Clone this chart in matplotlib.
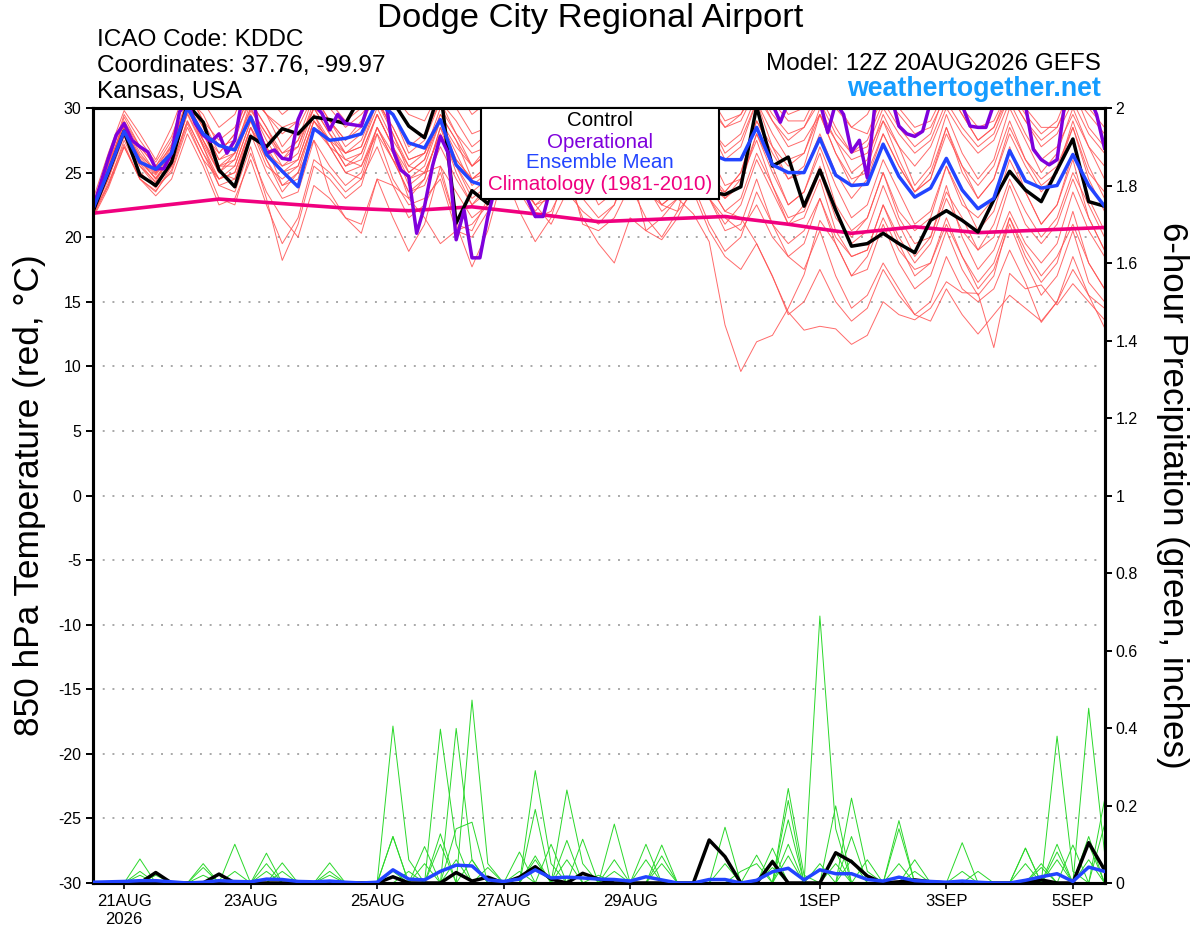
import numpy as np
import matplotlib
matplotlib.use("Agg")
import matplotlib.pyplot as plt
from matplotlib.patches import Rectangle

plt.rcParams['font.family'] = ['Liberation Sans', 'DejaVu Sans']

# ---------------- data (6-hourly steps from 20AUG2026 12Z) ----------------
tick_pos = [2, 10, 18, 26, 34, 46, 54, 62]
tick_labels = ['21AUG\n2026', '23AUG', '25AUG', '27AUG', '29AUG', '1SEP', '3SEP', '5SEP']
temp_ticks = [-30, -25, -20, -15, -10, -5, 0, 5, 10, 15, 20, 25, 30]
precip_ticks = [0, 0.2, 0.4, 0.6, 0.8, 1.0, 1.2, 1.4, 1.6, 1.8, 2.0]
precip_tick_labels = ['0', '0.2', '0.4', '0.6', '0.8', '1', '1.2', '1.4', '1.6', '1.8', '2']

control_temp = [21.9, 25.0, 28.2, 24.8, 24.0, 25.8, 30.3, 28.9, 25.2, 23.9, 27.8, 27.0, 28.4, 28.0, 29.3, 29.1,
                28.8, 31.0, 31.5, 30.5, 28.6, 27.7, 31.5, 21.1, 23.6, 22.6, 24.5, 25.5, 26.0, 25.0, 26.5, 27.0,
                26.0, 25.5, 26.5, 27.5, 26.0, 25.0, 24.0, 23.5, 23.3, 23.9, 30.1, 25.5, 26.2, 22.4, 25.2, 22.1,
                19.3, 19.5, 20.3, 19.5, 18.8, 21.3, 22.05, 21.3, 20.4, 22.9, 25.1, 23.65, 22.75, 25.2, 27.6, 22.75,
                22.4]

mean_temp = [22.1, 25.1, 28.2, 25.8, 25.25, 26.5, 30.0, 28.0, 27.1, 26.75, 29.3, 26.4, 25.1, 23.9, 28.4, 27.5,
             27.65, 28.0, 30.5, 29.5, 27.3, 26.9, 29.1, 25.6, 24.3, 23.9, 25.5, 26.5, 27.5, 28.0, 27.0, 27.5,
             28.5, 28.0, 27.0, 28.5, 27.5, 27.0, 26.5, 26.5, 26.0, 26.0, 28.5, 25.6, 25.0, 25.0, 27.65, 24.8,
             24.0, 24.1, 27.2, 24.7, 23.1, 23.8, 26.1, 23.65, 22.2, 23.0, 26.7, 24.35, 23.8, 24.0, 26.4, 24.0,
             22.4]

# operational run is 3-hourly
oper_temp = [22.1, 24.1, 26.1, 27.9, 28.8, 27.5, 27.0, 26.6, 25.3, 25.3, 26.5, 29.7, 30.5, 28.8, 27.9, 27.4,
             28.0, 26.5, 27.5, 31.0, 32.0, 28.3, 26.5, 26.75, 26.1, 26.0, 29.1, 30.5, 30.3, 29.6, 28.3, 29.5,
             28.8, 28.7, 28.6, 30.5, 31.5, 31.0, 26.75, 25.2, 24.7, 20.3, 22.4, 25.5, 27.8, 26.5, 19.8, 22.1,
             18.4, 18.4, 21.6, 24.0, 25.0, 26.0, 25.0, 23.0, 21.6, 21.6, 24.0, 26.0, 27.0, 28.0, 27.5, 28.5,
             29.0, 28.0, 29.5, 30.5, 29.0, 28.0, 29.5, 30.5, 29.5, 28.5, 30.0, 31.0, 30.5, 29.5, 30.5, 31.5,
             31.0, 30.8, 31.5, 32.0, 31.0, 30.5, 30.3, 28.9, 30.5, 31.5, 32.0, 31.0, 30.5, 28.1, 30.4, 29.5,
             26.6, 27.5, 24.6, 30.5, 31.5, 31.0, 28.6, 28.0, 27.8, 28.2, 30.5, 31.5, 32.0, 31.0, 30.2, 28.6,
             28.5, 28.5, 30.3, 31.5, 32.0, 31.0, 30.2, 26.8, 26.0, 25.6, 26.0, 30.5, 31.5, 32.0, 31.0, 29.5,
             26.9]

clim_step = [0, 4, 8, 12, 16, 20, 24, 28, 32, 36, 40, 44, 48, 52, 56, 60, 64]
clim_temp = [21.85, 22.4, 22.95, 22.6, 22.25, 22.05, 22.35, 21.8, 21.2, 21.4, 21.6, 21.0, 20.3, 20.8,
             20.35, 20.55, 20.75]

m01 = [22.3, 25.5, 28.8, 26.5, 25.0, 27.0, 30.8, 29.5, 27.0, 27.5, 31.0, 29.5, 28.5, 29.0, 31.5, 30.5,
       29.0, 30.0, 32.0, 31.0, 29.5, 29.0, 31.5, 30.0, 28.0, 28.5, 31.0, 30.0, 28.5, 29.0, 31.5, 30.5,
       29.0, 29.5, 32.0, 31.0, 29.5, 30.0, 32.5, 31.0, 29.0, 29.5, 32.0, 30.5, 29.0, 29.0, 31.5, 30.0,
       28.5, 28.0, 31.0, 29.5, 28.0, 28.5, 31.0, 30.0, 28.5, 29.0, 31.5, 30.0, 28.5, 28.5, 31.0, 29.5, 28.0]
m02 = [21.8, 25.0, 29.3, 27.0, 25.5, 27.5, 31.5, 29.0, 26.5, 28.0, 30.5, 28.5, 26.0, 27.5, 30.0, 29.0,
       27.5, 29.0, 31.0, 29.5, 27.0, 28.0, 30.5, 28.0, 25.5, 27.0, 30.0, 28.5, 27.0, 28.5, 31.0, 29.0,
       27.5, 28.0, 30.5, 29.5, 28.0, 29.0, 31.5, 30.0, 28.5, 29.5, 31.5, 29.0, 27.0, 27.5, 29.5, 27.5,
       26.0, 26.5, 29.0, 27.0, 25.5, 27.0, 30.0, 28.0, 26.5, 27.5, 30.5, 28.0, 26.0, 27.0, 29.5, 27.0, 25.5]
m03 = [22.0, 24.5, 27.8, 25.0, 23.8, 26.0, 29.5, 27.0, 24.0, 23.5, 27.0, 23.0, 18.2, 21.0, 25.5, 24.5,
       23.0, 24.0, 28.0, 26.0, 23.5, 24.5, 28.5, 25.0, 22.5, 24.0, 27.5, 25.5, 23.5, 24.5, 28.0, 26.0,
       24.0, 25.5, 28.5, 26.5, 24.5, 25.0, 28.0, 25.5, 23.0, 24.5, 28.0, 25.0, 22.5, 23.5, 27.0, 24.0,
       21.5, 22.5, 26.0, 23.5, 21.0, 22.0, 25.5, 23.0, 20.5, 22.0, 26.0, 23.5, 21.0, 22.5, 26.5, 23.0, 20.5]
m04 = [22.5, 25.8, 28.5, 26.0, 24.8, 26.5, 30.0, 28.0, 25.5, 26.5, 29.5, 27.0, 24.0, 24.5, 28.5, 27.0,
       25.0, 24.5, 27.0, 24.0, 21.5, 22.5, 25.0, 21.0, 17.7, 20.5, 25.0, 24.0, 22.0, 23.5, 27.0, 25.0,
       23.0, 24.0, 27.5, 25.0, 23.5, 24.5, 27.0, 24.0, 22.0, 23.0, 26.5, 24.0, 21.0, 22.5, 25.5, 22.0,
       19.5, 20.5, 24.0, 21.0, 18.5, 20.0, 23.5, 21.5, 19.0, 21.0, 24.5, 22.0, 20.0, 21.5, 25.0, 22.5, 20.0]
m05 = [21.5, 24.0, 27.0, 24.5, 23.5, 25.5, 29.0, 26.5, 24.5, 25.0, 28.5, 26.0, 23.5, 25.0, 29.0, 27.5,
       25.5, 26.5, 29.5, 27.0, 24.0, 25.0, 28.0, 25.5, 23.0, 24.0, 27.5, 25.5, 23.0, 24.0, 27.0, 25.0,
       22.5, 23.5, 26.5, 24.0, 22.0, 23.0, 21.8, 19.65, 13.2, 9.6, 11.9, 12.4, 14.5, 17.1, 21.3, 19.5,
       17.0, 18.5, 21.5, 19.0, 17.5, 18.0, 21.0, 18.5, 16.5, 18.0, 21.5, 19.0, 17.0, 18.5, 21.0, 18.0, 16.0]
m06 = [22.2, 25.2, 28.0, 25.5, 24.0, 25.5, 29.0, 26.5, 24.0, 24.5, 28.0, 25.0, 23.0, 23.5, 27.5, 25.5,
       24.0, 25.0, 28.5, 26.0, 24.5, 25.5, 29.0, 26.5, 24.0, 25.0, 28.0, 25.5, 24.5, 25.5, 28.5, 26.0,
       25.0, 25.5, 28.5, 25.5, 25.0, 25.5, 27.5, 24.0, 22.0, 21.5, 19.5, 16.95, 14.2, 12.8, 13.1, 12.9,
       11.7, 12.4, 15.0, 14.0, 13.6, 14.5, 16.55, 15.7, 15.65, 11.45, 17.2, 16.0, 16.3, 14.75, 16.4, 15.0, 13.6]
m07 = [21.4, 23.8, 27.0, 24.5, 23.6, 25.2, 28.8, 26.0, 24.5, 25.0, 28.5, 26.5, 25.5, 26.5, 30.0, 28.0,
       26.0, 26.5, 29.5, 27.0, 25.0, 26.0, 29.0, 27.0, 25.5, 26.5, 29.5, 27.5, 25.5, 26.0, 28.5, 25.5,
       24.0, 24.5, 27.5, 25.0, 23.5, 24.0, 26.5, 23.0, 21.5, 20.5, 22.5, 20.0, 18.5, 17.5, 20.5, 17.0,
       14.5, 15.5, 18.0, 16.0, 14.0, 13.5, 16.0, 14.0, 12.5, 14.0, 15.5, 14.5, 13.5, 15.0, 17.5, 15.5, 13.0]
m08 = [22.2, 24.8, 28.0, 25.5, 24.3, 26.5, 30.5, 28.5, 26.0, 27.0, 30.0, 27.5, 25.5, 26.0, 29.5, 27.0,
       25.0, 25.5, 28.5, 26.0, 23.5, 24.0, 27.0, 24.5, 22.5, 23.5, 26.0, 23.5, 21.5, 22.0, 24.5, 21.5,
       19.5, 18.0, 21.5, 20.5, 19.8, 21.5, 24.0, 21.0, 18.9, 20.0, 23.5, 21.0, 19.5, 20.5, 23.0, 20.0,
       18.5, 19.0, 22.5, 20.0, 18.0, 19.5, 23.0, 20.5, 19.0, 20.0, 24.0, 21.0, 19.5, 21.0, 24.5, 21.5, 19.0]
m09 = [21.9, 24.0, 27.5, 25.0, 23.9, 25.0, 28.5, 26.0, 23.0, 22.5, 26.5, 23.5, 21.5, 20.0, 24.0, 23.0,
       21.5, 21.0, 24.5, 21.5, 18.9, 21.0, 25.5, 23.5, 21.5, 22.5, 26.5, 24.5, 22.5, 23.5, 27.0, 25.0,
       23.5, 24.0, 28.0, 25.5, 23.0, 24.0, 27.5, 25.0, 23.5, 25.0, 29.0, 26.5, 24.5, 25.5, 29.5, 26.5,
       24.0, 25.5, 29.0, 26.0, 23.5, 25.0, 28.5, 25.5, 23.0, 24.5, 28.5, 26.0, 24.0, 25.0, 29.0, 25.5, 23.0]
m10 = [22.8, 26.5, 29.8, 28.0, 26.0, 28.5, 31.8, 30.5, 28.5, 29.5, 32.5, 31.0, 29.5, 30.5, 33.0, 31.5,
       30.0, 31.0, 33.5, 32.0, 30.5, 31.0, 33.0, 31.5, 29.5, 30.5, 32.5, 31.0, 29.5, 30.5, 33.0, 31.5,
       30.0, 31.0, 33.0, 31.5, 30.0, 31.0, 33.5, 32.0, 30.5, 31.0, 33.5, 31.5, 29.5, 30.0, 32.5, 30.5,
       28.5, 29.5, 32.0, 30.0, 28.5, 29.0, 31.5, 29.5, 27.5, 28.5, 31.5, 29.5, 28.0, 29.0, 32.0, 30.0, 28.5]
m11 = [21.7, 24.5, 28.2, 26.0, 24.5, 26.5, 30.2, 27.5, 25.0, 24.5, 28.5, 25.5, 24.5, 25.5, 29.0, 27.0,
       26.0, 25.5, 28.0, 24.5, 22.5, 23.0, 24.5, 20.5, 21.0, 22.5, 25.0, 22.0, 19.65, 21.5, 25.5, 23.0,
       21.5, 22.5, 26.5, 23.5, 22.5, 23.5, 27.0, 24.0, 23.0, 24.0, 28.0, 25.5, 22.5, 23.5, 26.5, 22.5,
       20.5, 21.5, 25.0, 21.5, 19.5, 20.0, 24.0, 20.0, 17.5, 19.0, 22.0, 19.5, 18.0, 19.5, 23.5, 20.5, 18.5]
m12 = [22.4, 25.3, 29.0, 27.0, 25.5, 27.0, 30.5, 28.0, 26.5, 28.0, 31.5, 29.5, 27.0, 28.5, 31.0, 29.0,
       27.5, 28.5, 31.5, 29.5, 26.5, 27.5, 30.5, 29.0, 27.0, 28.0, 31.0, 29.5, 27.5, 28.5, 31.5, 29.0,
       27.0, 27.5, 30.0, 28.0, 26.5, 27.5, 30.5, 28.5, 27.0, 28.0, 31.0, 29.0, 27.5, 28.5, 31.0, 28.5,
       26.5, 27.0, 30.0, 28.0, 26.5, 27.5, 30.5, 28.5, 27.0, 28.0, 31.0, 29.0, 27.5, 28.5, 31.5, 28.5, 27.0]
m13 = [21.6, 24.2, 27.2, 24.5, 23.2, 24.5, 28.0, 25.5, 22.5, 23.0, 26.0, 22.5, 19.5, 21.5, 26.0, 25.0,
       23.5, 24.5, 28.5, 26.5, 23.0, 21.5, 19.5, 20.5, 20.0, 22.0, 26.0, 24.0, 22.5, 23.0, 25.5, 21.0,
       20.5, 21.5, 24.0, 21.5, 20.0, 22.0, 26.0, 23.0, 21.0, 22.5, 26.0, 23.5, 21.0, 21.5, 24.5, 20.5,
       18.5, 19.0, 22.5, 19.5, 17.0, 18.0, 21.5, 18.5, 16.0, 17.5, 21.0, 18.0, 15.5, 17.0, 20.5, 16.5, 15.0]
m14 = [22.1, 25.6, 29.5, 27.5, 25.8, 27.8, 31.2, 29.0, 27.5, 28.5, 31.0, 29.5, 28.0, 29.0, 31.5, 30.0,
       28.5, 29.5, 31.0, 28.0, 25.5, 25.0, 25.5, 21.0, 20.5, 23.0, 27.5, 26.5, 25.5, 27.0, 30.5, 29.0,
       28.0, 29.0, 32.0, 30.5, 29.0, 30.0, 32.5, 30.5, 28.5, 29.0, 31.5, 29.5, 28.0, 28.5, 30.5, 28.0,
       26.5, 27.5, 30.5, 28.5, 27.0, 28.0, 31.5, 29.5, 27.5, 28.5, 31.0, 29.0, 27.0, 28.0, 30.5, 28.0, 26.5]
m15 = [22.0, 25.0, 28.5, 26.0, 24.5, 26.0, 29.8, 27.5, 25.5, 26.0, 29.5, 27.0, 25.0, 25.5, 29.0, 27.5,
       26.5, 27.5, 30.5, 28.0, 25.0, 26.0, 29.5, 27.5, 25.5, 26.5, 29.5, 27.0, 25.5, 26.0, 29.0, 26.0,
       23.5, 24.0, 27.0, 24.5, 22.5, 23.5, 26.5, 23.0, 20.5, 21.0, 24.5, 21.0, 18.5, 19.5, 23.0, 19.5,
       17.0, 17.5, 21.0, 18.0, 16.0, 17.0, 20.5, 17.5, 15.5, 17.0, 21.5, 18.5, 16.5, 18.0, 22.0, 18.0, 16.0]
m16 = [22.6, 25.2, 28.3, 25.8, 24.6, 26.2, 30.0, 27.5, 25.0, 26.5, 30.5, 28.5, 26.5, 27.0, 30.5, 28.5,
       26.5, 27.0, 30.0, 27.5, 25.5, 26.5, 29.5, 27.5, 24.5, 25.0, 27.5, 24.5, 22.5, 21.0, 23.5, 22.0,
       21.0, 22.5, 25.5, 20.5, 21.5, 23.0, 26.5, 24.0, 23.5, 25.0, 29.0, 27.0, 25.5, 26.5, 30.0, 27.5,
       25.0, 26.0, 29.5, 27.0, 24.0, 25.5, 29.5, 26.5, 24.5, 26.0, 30.0, 27.5, 25.0, 26.5, 30.0, 27.0, 24.5]
m17 = [21.9, 24.7, 28.6, 26.3, 25.2, 27.2, 30.3, 27.0, 24.5, 25.5, 29.0, 26.0, 24.0, 25.0, 27.5, 23.5,
       21.5, 20.3, 24.5, 24.0, 23.0, 24.5, 28.5, 26.0, 24.5, 25.5, 29.0, 27.0, 25.5, 26.5, 30.0, 27.5,
       26.0, 27.0, 30.5, 28.0, 26.5, 27.5, 31.0, 28.5, 26.0, 27.0, 30.5, 27.0, 24.5, 25.0, 28.0, 25.0,
       23.0, 24.5, 28.0, 25.5, 23.5, 24.5, 28.5, 25.0, 23.0, 24.5, 28.0, 25.5, 23.5, 25.0, 28.5, 24.5, 22.0]
m18 = [22.3, 25.4, 28.9, 26.8, 25.0, 26.8, 30.6, 28.5, 26.0, 26.5, 30.0, 28.0, 26.0, 27.0, 30.0, 28.0,
       26.5, 27.0, 30.5, 28.5, 26.0, 26.5, 30.0, 28.0, 26.5, 27.0, 30.5, 28.5, 26.5, 27.5, 30.0, 27.0,
       24.5, 25.0, 28.0, 24.5, 22.5, 22.0, 23.5, 20.5, 18.5, 17.5, 19.5, 17.0, 14.0, 15.0, 17.5, 15.0,
       13.5, 14.5, 17.5, 15.5, 14.0, 15.0, 18.5, 16.0, 15.0, 16.0, 19.0, 16.5, 13.4, 15.0, 18.5, 15.5, 14.5]
m19 = [21.8, 24.9, 28.4, 26.2, 24.9, 26.6, 30.4, 28.0, 25.5, 25.5, 29.0, 26.5, 25.0, 26.0, 29.5, 27.5,
       25.5, 26.0, 29.5, 27.0, 24.5, 25.0, 28.0, 25.5, 23.5, 24.5, 28.0, 26.0, 24.5, 25.5, 29.0, 26.5,
       25.0, 25.5, 29.0, 26.5, 25.0, 26.0, 29.5, 26.5, 24.0, 24.5, 27.5, 24.0, 21.5, 22.0, 25.0, 21.5,
       20.0, 21.5, 25.0, 22.0, 20.5, 21.5, 25.5, 22.5, 21.5, 23.0, 27.0, 23.5, 21.0, 22.5, 26.0, 21.5, 19.0]
m20 = [22.0, 25.1, 28.1, 25.7, 24.2, 25.8, 29.6, 27.2, 25.0, 26.0, 29.8, 28.0, 26.5, 27.5, 31.0, 29.0,
       27.0, 28.0, 30.5, 28.5, 26.0, 26.5, 29.0, 26.0, 24.5, 25.5, 29.5, 27.5, 26.0, 27.0, 30.0, 28.0,
       26.5, 27.5, 31.0, 28.5, 27.0, 28.0, 31.5, 29.0, 26.5, 27.5, 30.5, 28.0, 26.0, 26.5, 29.5, 26.5,
       24.5, 25.0, 28.0, 25.5, 23.5, 24.5, 28.0, 25.5, 24.0, 25.5, 29.0, 26.0, 24.5, 25.5, 28.5, 25.0, 23.5]
member_temps = [m01, m02, m03, m04, m05, m06, m07, m08, m09, m10,
                m11, m12, m13, m14, m15, m16, m17, m18, m19, m20]

control_precip = [0, 0, 0, 0, .027, 0, 0, 0, .023, 0, 0, 0, 0, 0, 0, 0,
                  0, 0, 0, .016, 0, 0, 0, .027, .005, .015, 0, .015, .042, .01, 0, .025,
                  .01, 0, 0, 0, 0, 0, 0, .111, .068, 0, 0, .055, 0, 0, 0, .078,
                  .055, .018, 0, .003, .008, .003, 0, 0, 0, 0, 0, 0, .008, 0, 0, .104,
                  .034]
mean_precip = [.002, .003, .004, .006, .006, .003, 0, .002, .006, .004, .003, .01, .009, .004, .003, .005,
               .002, 0, .002, .034, .01, .008, .03, .046, .044, .008, .004, .01, .034, .013, .015, .013,
               .01, .009, .005, .016, .008, 0, 0, .009, .009, 0, .007, .029, .038, .008, .034, .024,
               .024, .009, .005, .015, .006, .004, .002, .005, .002, 0, 0, .007, .016, .024, .004, .041,
               .03]

p01 = [0, 0, 0, 0, 0, 0, 0, 0, 0, 0, 0, 0, 0, 0, 0, 0,
       0, 0, 0, .405, .06, 0, 0, 0, 0, 0, 0, 0, .07, 0, 0, 0,
       0, 0, 0, 0, 0, 0, 0, 0, 0, 0, 0, 0, .10, 0, 0, 0,
       0, 0, 0, 0, 0, 0, 0, 0, 0, 0, 0, 0, 0, 0, 0, 0, 0]
p02 = [0, 0, 0, 0, 0, 0, 0, 0, 0, 0, 0, 0, 0, 0, 0, 0,
       0, 0, 0, 0, 0, 0, .397, .10, 0, 0, 0, 0, 0, 0, 0, 0,
       0, 0, 0, 0, 0, 0, 0, 0, 0, 0, 0, 0, 0, 0, 0, .08,
       0, 0, 0, 0, 0, 0, 0, 0, 0, 0, 0, 0, 0, 0, 0, .451, .08]
p03 = [0, 0, 0, 0, 0, 0, 0, 0, 0, 0, 0, 0, 0, 0, 0, 0,
       0, 0, 0, 0, 0, 0, 0, .399, .06, 0, 0, 0, 0, 0, 0, 0,
       0, 0, 0, 0, 0, 0, 0, 0, 0, 0, 0, 0, 0, 0, .05, 0,
       0, 0, 0, 0, 0, 0, 0, 0, 0, 0, 0, 0, 0, .10, 0, 0, 0]
p04 = [0, 0, 0, 0, 0, 0, 0, 0, 0, 0, 0, 0, 0, 0, 0, 0,
       0, 0, 0, 0, 0, 0, 0, 0, .472, .05, 0, 0, 0, 0, 0, 0,
       0, .06, 0, 0, 0, 0, 0, 0, 0, 0, 0, 0, 0, 0, 0, 0,
       .12, 0, 0, 0, 0, 0, 0, 0, 0, 0, 0, 0, 0, 0, 0, 0, 0]
p05 = [0, 0, 0, 0, 0, 0, 0, 0, 0, 0, 0, 0, 0, 0, 0, 0,
       0, 0, 0, 0, 0, 0, 0, 0, 0, 0, 0, 0, 0, 0, 0, 0,
       0, 0, 0, 0, 0, 0, 0, 0, 0, 0, 0, 0, 0, 0, .689, .14,
       0, 0, 0, 0, 0, 0, 0, 0, 0, 0, 0, .05, 0, 0, 0, 0, 0]
p06 = [0, 0, 0, 0, 0, 0, 0, 0, 0, 0, 0, 0, 0, 0, 0, 0,
       0, 0, 0, 0, 0, 0, 0, 0, 0, 0, 0, 0, .29, .05, 0, 0,
       0, 0, 0, 0, 0, 0, 0, 0, 0, 0, 0, 0, .244, .02, 0, 0,
       0, 0, 0, 0, 0, 0, 0, 0, 0, 0, 0, 0, 0, .379, .03, 0, 0]
p07 = [0, 0, 0, 0, 0, 0, 0, 0, 0, 0, 0, 0, 0, 0, 0, 0,
       0, 0, 0, 0, 0, 0, 0, 0, 0, 0, 0, 0, 0, 0, .24, .05,
       0, 0, 0, 0, 0, 0, 0, 0, 0, 0, 0, 0, 0, 0, 0, 0,
       .219, .03, 0, 0, 0, 0, 0, 0, 0, 0, 0, 0, 0, 0, 0, 0, 0]
p08 = [0, 0, 0, 0, 0, 0, 0, 0, 0, 0, 0, 0, 0, 0, 0, 0,
       0, 0, 0, .12, 0, 0, .127, 0, 0, 0, 0, 0, 0, 0, 0, 0,
       0, 0, 0, 0, 0, 0, 0, 0, 0, 0, 0, 0, .213, 0, 0, 0,
       0, 0, 0, 0, 0, 0, 0, 0, 0, 0, 0, 0, 0, 0, 0, 0, .214]
p09 = [0, 0, 0, 0, 0, 0, 0, 0, 0, 0, 0, 0, 0, 0, 0, 0,
       0, 0, 0, 0, 0, 0, 0, .14, .157, 0, 0, 0, 0, 0, 0, 0,
       0, 0, 0, 0, 0, 0, 0, 0, 0, 0, 0, 0, 0, 0, 0, .199,
       0, 0, 0, .14, 0, 0, 0, 0, 0, 0, 0, 0, 0, 0, 0, 0, 0]
p10 = [0, 0, 0, .062, 0, 0, 0, 0, 0, .10, 0, 0, 0, 0, 0, 0,
       0, 0, 0, .12, 0, 0, 0, 0, 0, 0, 0, 0, 0, 0, 0, 0,
       0, .152, 0, 0, 0, 0, 0, 0, 0, 0, 0, 0, 0, 0, 0, 0,
       0, 0, 0, .161, 0, 0, 0, 0, 0, 0, 0, 0, 0, 0, 0, 0, 0]
p11 = [0, 0, 0, 0, 0, 0, 0, 0, 0, 0, 0, .077, 0, 0, 0, 0,
       0, 0, 0, 0, 0, 0, 0, 0, 0, 0, 0, 0, .19, 0, .11, 0,
       0, 0, 0, 0, 0, 0, 0, 0, 0, 0, 0, 0, .163, 0, 0, 0,
       0, 0, 0, 0, 0, 0, 0, 0, 0, 0, 0, 0, 0, 0, 0, .12, 0]
p12 = [0, 0, 0, 0, 0, 0, 0, .05, 0, 0, 0, 0, 0, 0, 0, 0,
       0, 0, 0, 0, 0, .094, 0, 0, 0, 0, 0, 0, 0, 0, 0, .113,
       0, 0, 0, 0, 0, 0, 0, 0, .144, 0, 0, 0, 0, 0, 0, 0,
       0, 0, 0, 0, 0, 0, 0, .104, 0, 0, 0, 0, 0, 0, 0, 0, 0]
p13 = [0, 0, 0, 0, 0, 0, 0, 0, 0, 0, 0, 0, .052, 0, 0, .052,
       0, 0, 0, 0, 0, 0, 0, 0, 0, 0, 0, 0, 0, 0, 0, 0,
       0, 0, 0, 0, .098, 0, 0, 0, 0, 0, 0, .09, 0, 0, 0, 0,
       0, 0, 0, 0, 0, 0, 0, 0, 0, 0, 0, .09, 0, 0, 0, 0, 0]
p14 = [0, 0, 0, .03, 0, 0, 0, 0, 0, 0, 0, .05, 0, 0, 0, 0,
       0, 0, 0, 0, 0, 0, 0, 0, 0, 0, 0, .08, 0, 0, 0, 0,
       0, 0, 0, .10, 0, 0, 0, 0, 0, 0, .072, 0, 0, 0, 0, 0,
       0, 0, 0, 0, 0, 0, 0, 0, 0, 0, 0, 0, 0, 0, .098, 0, 0]
p15 = [0, 0, 0, 0, .02, 0, 0, 0, 0, 0, 0, 0, 0, 0, 0, 0,
       0, 0, 0, 0, 0, 0, .10, 0, 0, 0, 0, 0, 0, .10, 0, 0,
       0, 0, 0, 0, .07, 0, 0, 0, 0, 0, 0, 0, 0, 0, 0, 0,
       .06, 0, 0, 0, 0, 0, 0, 0, 0, 0, 0, 0, 0, .08, 0, 0, 0]
p16 = [0, 0, 0, 0, 0, 0, 0, .04, 0, 0, 0, 0, 0, 0, 0, .03,
       0, 0, 0, 0, .03, 0, 0, 0, 0, .04, 0, 0, 0, 0, 0, 0,
       0, 0, 0, 0, 0, 0, 0, 0, 0, 0, 0, .06, 0, 0, 0, 0,
       0, 0, 0, 0, 0, 0, 0, 0, 0, 0, 0, 0, .05, 0, 0, 0, .15]
p17 = [0, 0, 0, 0, 0, 0, 0, 0, 0, 0, 0, 0, .03, 0, 0, 0,
       0, 0, 0, 0, 0, .05, 0, .06, 0, 0, 0, 0, 0, 0, .06, 0,
       0, 0, 0, 0, 0, 0, 0, 0, 0, 0, 0, 0, 0, 0, 0, .05,
       0, 0, 0, 0, .06, 0, 0, 0, 0, 0, 0, 0, 0, 0, 0, .10, 0]
p18 = [0, 0, 0, .02, 0, 0, 0, 0, 0, 0, 0, .03, 0, 0, 0, 0,
       0, 0, 0, .03, 0, 0, 0, 0, 0, 0, 0, 0, .06, 0, 0, 0,
       0, .03, 0, 0, 0, 0, 0, 0, .05, 0, 0, 0, .07, 0, 0, 0,
       0, 0, 0, 0, 0, 0, 0, 0, 0, 0, 0, .09, 0, .06, 0, 0, 0]
p19 = [0, 0, 0, 0, 0, 0, 0, 0, 0, .03, 0, 0, 0, 0, 0, 0,
       0, 0, 0, 0, 0, 0, 0, 0, .06, 0, 0, 0, 0, 0, 0, 0,
       0, 0, 0, .06, 0, 0, 0, 0, 0, 0, 0, .04, 0, 0, 0, 0,
       0, 0, 0, .05, 0, 0, 0, .03, 0, 0, 0, 0, 0, 0, 0, .06, 0]
p20 = [0, 0, 0, 0, 0, 0, 0, .02, 0, 0, 0, 0, 0, 0, 0, .02,
       0, 0, 0, 0, 0, 0, 0, 0, 0, 0, 0, .03, 0, 0, 0, 0,
       .02, 0, 0, 0, .05, 0, 0, 0, 0, .03, .05, 0, 0, 0, 0, 0,
       0, .06, 0, 0, .03, 0, 0, 0, .03, 0, 0, 0, .04, 0, 0, 0, 0]
member_precips = [p01, p02, p03, p04, p05, p06, p07, p08, p09, p10,
                  p11, p12, p13, p14, p15, p16, p17, p18, p19, p20]

# ---------------- styling ----------------
C_MEMBER_T = '#ff5050'
C_MEMBER_P = '#2ad82a'
C_CONTROL = '#000000'
C_OPER = '#7f00dc'
C_MEAN = '#2244ff'
C_CLIM = '#f0007f'
C_SITE = '#159cff'

W, H = 1200, 927
fig = plt.figure(figsize=(W / 100, H / 100), dpi=100)
L, R, T, B = 92.5, 1104.5, 108, 883
ax = fig.add_axes([L / W, 1 - B / H, (R - L) / W, (B - T) / H])
ax2 = ax.twinx()


def steps(values, per_step=1.0):
    return np.arange(len(values)) * per_step


for mt in member_temps:
    ax.plot(steps(mt), mt, color=C_MEMBER_T, lw=0.7, alpha=0.85, zorder=2)
ax.plot(clim_step, clim_temp, color=C_CLIM, lw=2.6, zorder=4)
ax.plot(steps(control_temp), control_temp, color=C_CONTROL, lw=2.5, zorder=5)
ax.plot(steps(oper_temp, 0.5), oper_temp, color=C_OPER, lw=2.5, zorder=5)
ax.plot(steps(mean_temp), mean_temp, color=C_MEAN, lw=2.5, zorder=6)

for mp in member_precips:
    ax2.plot(steps(mp), mp, color=C_MEMBER_P, lw=0.7, zorder=2)
ax2.plot(steps(control_precip), control_precip, color=C_CONTROL, lw=2.5, zorder=5)
ax2.plot(steps(mean_precip), mean_precip, color=C_MEAN, lw=2.5, zorder=6)

ax.set_xlim(0, 64)
ax.set_ylim(-30, 30)
ax2.set_ylim(0, 2)

ax.set_yticks(temp_ticks)
ax.set_yticklabels([str(t) for t in temp_ticks])
ax.set_xticks(tick_pos)
ax.set_xticklabels(tick_labels, multialignment='center')
ax2.set_yticks(precip_ticks)
ax2.set_yticklabels(precip_tick_labels)

ax.grid(axis='y', linestyle=(0, (1, 4)), color='#a8a8a8', lw=1.4)
ax.grid(axis='x', visible=False)

ax.tick_params(axis='y', direction='out', length=5, width=1.4, labelsize=11.5, pad=3)
ax.tick_params(axis='x', direction='out', length=4, width=1.2, labelsize=12, pad=4)
ax2.tick_params(axis='y', direction='out', length=5, width=1.4, labelsize=11.5, pad=3)

for a in (ax, ax2):
    for s in a.spines.values():
        s.set_linewidth(2.2)
        s.set_color('black')

# ---------------- texts ----------------
def fx(px):
    return px / W


def fy(py):
    return 1 - py / H


fig.text(fx(590), fy(18), 'Dodge City Regional Airport', ha='center', va='center', fontsize=24.8)
fig.text(fx(97), fy(40), 'ICAO Code: KDDC', ha='left', va='center', fontsize=17.6)
fig.text(fx(97), fy(66), 'Coordinates: 37.76, -99.97', ha='left', va='center', fontsize=17.6)
fig.text(fx(97), fy(92), 'Kansas, USA', ha='left', va='center', fontsize=17.6)
fig.text(fx(1101), fy(64), 'Model: 12Z 20AUG2026 GEFS', ha='right', va='center', fontsize=17.5)
fig.text(fx(1101), fy(89), 'weathertogether.net', ha='right', va='center', fontsize=19.3,
         fontweight='bold', color=C_SITE)

fig.text(fx(30), fy(495), '850 hPa Temperature (red, \u00b0C)', rotation=90,
         ha='center', va='center', fontsize=25.4)
fig.text(fx(1172), fy(495), '6-hour Precipitation (green, inches)', rotation=270,
         ha='center', va='center', fontsize=25.2)

# legend box
rect = Rectangle((fx(481), fy(199)), (719 - 481) / W, (199 - 108) / H,
                 transform=fig.transFigure, facecolor='white', edgecolor='black',
                 lw=1.5, zorder=10)
fig.add_artist(rect)
legend_items = [('Control', C_CONTROL, 121), ('Operational', C_OPER, 142),
                ('Ensemble Mean', C_MEAN, 163), ('Climatology (1981-2010)', C_CLIM, 185)]
for label, col, ypx in legend_items:
    fig.text(fx(600), fy(ypx), label, ha='center', va='center', fontsize=14.8,
             color=col, zorder=11)

fig.savefig('out.png', dpi=100)
